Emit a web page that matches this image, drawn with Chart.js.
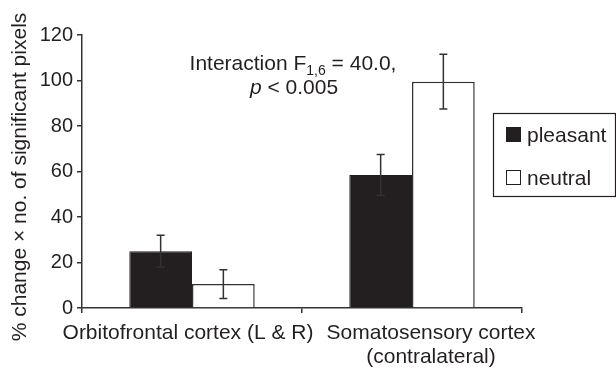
<!DOCTYPE html>
<html>
<head>
<meta charset="utf-8">
<script src="https://cdn.jsdelivr.net/npm/chart.js@4/dist/chart.umd.min.js"></script>
<style>
  html, body { margin: 0; padding: 0; background: #fff; }
  #wrap { width: 616px; height: 370px; }
</style>
</head>
<body>
<div id="wrap"><canvas id="grafico" width="616" height="370"></canvas></div>
<script>
const regiones = ['Orbitofrontal cortex (L & R)', ['Somatosensory cortex', '(contralateral)']];
const agradable = [25, 58.5];
const neutral = [10.5, 99.5];
const errAgradable = [7, 9];
const errNeutral = [6.3, 12];
const ticksY = [0, 20, 40, 60, 80, 100, 120];
const tituloY = '% change × no. of significant pixels';

const tinta = '#231f20';
const fuente = '"Liberation Sans", Arial, sans-serif';

// barras de error dibujadas sobre las barras
const errorBars = {
  id: 'errorBars',
  afterDatasetsDraw(chart) {
    const ctx = chart.ctx;
    const y = chart.scales.y;
    const errores = [errAgradable, errNeutral];
    ctx.save();
    ctx.strokeStyle = '#333';
    ctx.lineWidth = 1.5;
    chart.data.datasets.forEach((ds, di) => {
      chart.getDatasetMeta(di).data.forEach((bar, i) => {
        const v = ds.data[i], e = errores[di][i];
        const x = bar.x;
        const yTop = y.getPixelForValue(v + e);
        const yBot = y.getPixelForValue(v - e);
        ctx.beginPath();
        ctx.moveTo(x, yTop); ctx.lineTo(x, yBot);
        ctx.moveTo(x - 4, yTop); ctx.lineTo(x + 4, yTop);
        ctx.moveTo(x - 4, yBot); ctx.lineTo(x + 4, yBot);
        ctx.stroke();
      });
    });
    ctx.restore();
  }
};

// anotación, etiquetas, título del eje y leyenda con recuadro
const extras = {
  id: 'extras',
  afterDraw(chart) {
    const ctx = chart.ctx;
    ctx.save();
    ctx.fillStyle = tinta;
    ctx.textBaseline = 'alphabetic';
    const big = '21px ' + fuente, small = '14px ' + fuente;

    // título eje Y
    ctx.save();
    ctx.translate(26, 177);
    ctx.rotate(-Math.PI / 2);
    ctx.font = big;
    ctx.textAlign = 'center';
    ctx.fillText(tituloY, 0, 0);
    ctx.restore();

    // etiquetas de categoría (la segunda va desplazada a la derecha)
    const xs = chart.scales.x;
    const desplaz = [-4, 19];
    ctx.font = big;
    ctx.textAlign = 'center';
    regiones.forEach((lab, i) => {
      const lineas = Array.isArray(lab) ? lab : [lab];
      const cx = xs.getPixelForValue(i) + desplaz[i];
      lineas.forEach((t, j) => ctx.fillText(t, cx, 339 + j * 24));
    });
    ctx.textAlign = 'left';

    // linea 1: Interaction F_{1,6} = 40.0,
    ctx.font = big;
    const a = 'Interaction F', c = ' = 40.0,';
    const wa = ctx.measureText(a).width, wc = ctx.measureText(c).width;
    ctx.font = small;
    const b = '1,6';
    const wb = ctx.measureText(b).width;
    let x = 293 - (wa + wb + wc) / 2;
    ctx.font = big; ctx.fillText(a, x, 70); x += wa;
    ctx.font = small; ctx.fillText(b, x, 75); x += wb;
    ctx.font = big; ctx.fillText(c, x, 70);
    // linea 2: p < 0.005
    ctx.font = 'italic 21px ' + fuente;
    const p = 'p';
    const wp = ctx.measureText(p).width;
    ctx.font = big;
    const r = ' < 0.005';
    const wr = ctx.measureText(r).width;
    x = 294 - (wp + wr) / 2;
    ctx.font = 'italic 21px ' + fuente; ctx.fillText(p, x, 94);
    ctx.font = big; ctx.fillText(r, x + wp, 94);

    // leyenda
    ctx.strokeStyle = tinta;
    ctx.lineWidth = 1.2;
    ctx.strokeRect(493.5, 113.5, 122, 83);
    chart.data.datasets.forEach((ds, i) => {
      const yy = 127 + i * 43;
      ctx.fillStyle = ds.backgroundColor;
      ctx.fillRect(506, yy, 15, 15);
      ctx.strokeStyle = tinta;
      ctx.lineWidth = 1;
      ctx.strokeRect(506.5, yy + 0.5, 14, 14);
      ctx.fillStyle = tinta;
      ctx.font = big;
      ctx.fillText(ds.label, 527, yy + 15);
    });
    ctx.restore();
  }
};

new Chart(document.getElementById('grafico'), {
  type: 'bar',
  data: {
    labels: regiones,
    datasets: [
      {
        label: 'pleasant',
        data: agradable,
        backgroundColor: tinta,
        borderColor: tinta,
        borderWidth: 1,
        categoryPercentage: 0.57,
        barPercentage: 1.0
      },
      {
        label: 'neutral',
        data: neutral,
        backgroundColor: '#ffffff',
        borderColor: '#333',
        borderWidth: 1.5,
        categoryPercentage: 0.57,
        barPercentage: 1.0
      }
    ]
  },
  options: {
    responsive: false,
    animation: false,
    layout: { padding: { top: 35, right: 94, left: 0, bottom: 0 } },
    plugins: {
      legend: { display: false },
      tooltip: { enabled: false }
    },
    scales: {
      x: {
        border: { color: '#333', width: 1.5 },
        grid: { offset: true, drawOnChartArea: false, tickLength: 5, color: '#333', lineWidth: 1.5 },
        ticks: { display: false },
        afterFit(s) { s.height = 62; }
      },
      y: {
        min: 0,
        max: 120,
        afterBuildTicks(s) { s.ticks = ticksY.map(v => ({ value: v })); },
        border: { color: '#333', width: 1.5 },
        grid: { drawOnChartArea: false, tickLength: 5, color: '#333', lineWidth: 1.5 },
        ticks: { color: tinta, font: { family: fuente, size: 20 }, padding: 4 },
        afterFit(s) { s.width = 82; }
      }
    }
  },
  plugins: [errorBars, extras]
});
</script>
</body>
</html>
